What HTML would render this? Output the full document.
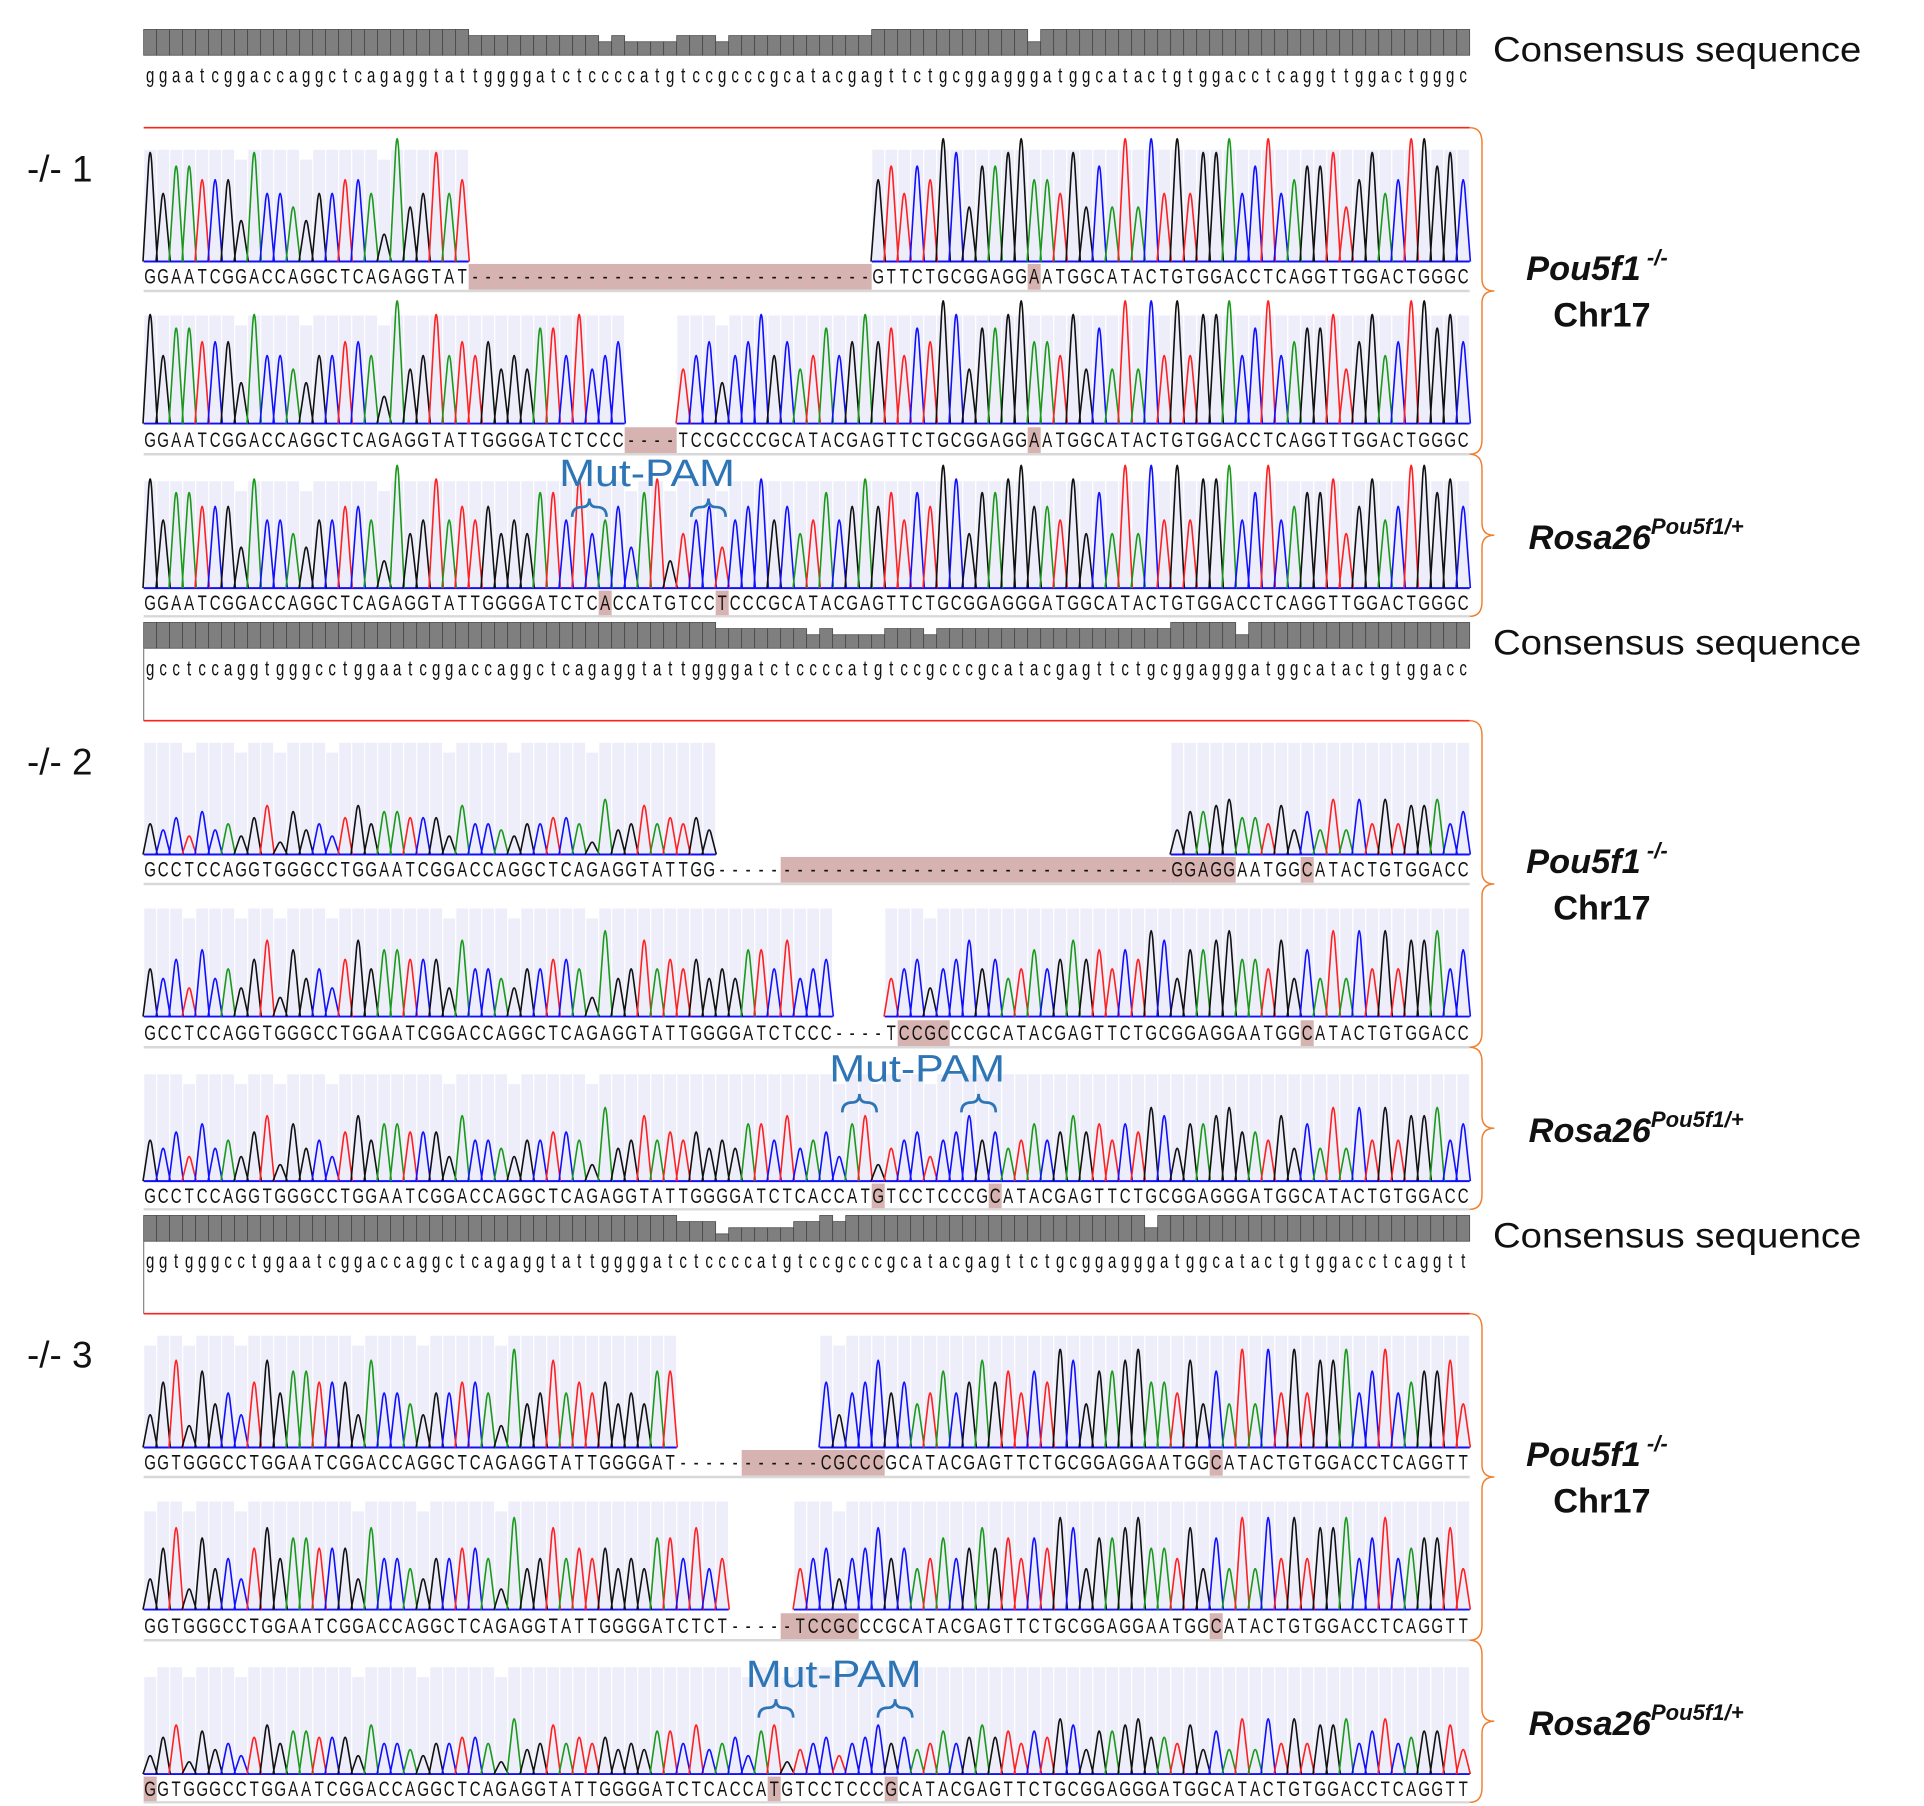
<!DOCTYPE html>
<html><head><meta charset="utf-8"><style>
html,body{margin:0;padding:0;background:#fff;}
svg{display:block;}
</style></head><body>
<svg id="fig" xmlns="http://www.w3.org/2000/svg" width="1924" height="1806" viewBox="0 0 1567 1471" preserveAspectRatio="none" font-family="Liberation Sans, sans-serif"></svg>
<script>
// ---- data ----
const genomicHeights = "5463745368274536" + "8577666385543556652945856" + "5645477584563782456356856457568" + "6757698477896658474949595889579567784685699786";
const cons1 = "ggaatcggaccaggctcagaggtattggggatctccccatgtccgcccgcatacgagttctgcggagggatggcatactgtggacctcaggttggactgggc";
const cons2 = "gcctccaggtgggcctggaatcggaccaggctcagaggtattggggatctccccatgtccgcccgcatacgagttctgcggagggatggcatactgtggacc";
const cons3 = "ggtgggcctggaatcggaccaggctcagaggtattggggatctccccatgtccgcccgcatacgagttctgcggagggatggcatactgtggacctcaggtt";
const b1t1 = "GGAATCGGACCAGGCTCAGAGGTAT-------------------------------GTTCTGCGGAGGAATGGCATACTGTGGACCTCAGGTTGGACTGGGC";
const b1t2 = "GGAATCGGACCAGGCTCAGAGGTATTGGGGATCTCCC----TCCGCCCGCATACGAGTTCTGCGGAGGAATGGCATACTGTGGACCTCAGGTTGGACTGGGC";
const b1t3 = "GGAATCGGACCAGGCTCAGAGGTATTGGGGATCTCACCATGTCCTCCCGCATACGAGTTCTGCGGAGGGATGGCATACTGTGGACCTCAGGTTGGACTGGGC";
const b2t1 = "GCCTCCAGGTGGGCCTGGAATCGGACCAGGCTCAGAGGTATTGG-----------------------------------GGAGGAATGGCATACTGTGGACC";
const b2t2 = "GCCTCCAGGTGGGCCTGGAATCGGACCAGGCTCAGAGGTATTGGGGATCTCCC----TCCGCCCGCATACGAGTTCTGCGGAGGAATGGCATACTGTGGACC";
const b2t3 = "GCCTCCAGGTGGGCCTGGAATCGGACCAGGCTCAGAGGTATTGGGGATCTCACCATGTCCTCCCGCATACGAGTTCTGCGGAGGGATGGCATACTGTGGACC";
const b3t1 = "GGTGGGCCTGGAATCGGACCAGGCTCAGAGGTATTGGGGAT-----------CGCCCGCATACGAGTTCTGCGGAGGAATGGCATACTGTGGACCTCAGGTT";
const b3t2 = "GGTGGGCCTGGAATCGGACCAGGCTCAGAGGTATTGGGGATCTCT-----TCCGCCCGCATACGAGTTCTGCGGAGGAATGGCATACTGTGGACCTCAGGTT";
const b3t3 = "GGTGGGCCTGGAATCGGACCAGGCTCAGAGGTATTGGGGATCTCACCATGTCCTCCCGCATACGAGTTCTGCGGAGGGATGGCATACTGTGGACCTCAGGTT";
const boxes = [[[25,55],[68,68]],[[37,40],[68,68]],[[35,35],[44,44]],
               [[49,78],[79,83],[89,89]],[[58,61],[89,89]],[[56,56],[65,65]],
               [[46,56],[82,82]],[[49,54],[82,82]],[[0,0],[48,48],[57,57]]];
const peakScale = [1,1,1, 0.45,0.7,0.6, 0.8,0.75,0.45];
const blockOffsets = [16,0,7];
// ---- layout ----
const svg = document.getElementById('fig');
const NS = "http://www.w3.org/2000/svg";
const X0 = 117, X1 = 1197, N = 102, cw = (X1-X0)/N, SX = 0.72;
const colors = {A:"#1a9a1a",C:"#1010ff",G:"#111",T:"#ff2020"};
function mk(tag, attrs, parent){const e=document.createElementNS(NS,tag);for(const k in attrs)e.setAttribute(k,attrs[k]);(parent||svg).appendChild(e);return e;}
function fix(s){return s.padEnd(N,'-').slice(0,N);}
const blocks = [
 {cons:cons1, traces:[b1t1,b1t2,b1t3], dy:0},
 {cons:cons2, traces:[b2t1,b2t2,b2t3], dy:483},
 {cons:cons3, traces:[b3t1,b3t2,b3t3], dy:966}
];
const traceGeom = [[122,213,231,237],[257,345,364,370],[392,479,497,502]];
const blockNames=['1','2','3'];
blocks.forEach((b,bi)=>{
  const dy=b.dy;
  const cons=fix(b.cons);
  const traces=b.traces.map(fix);
  const g=mk('g',{});
  
  
  const bar=mk('g',{},g);
  
  
  for(let i=0;i<N;i++){
    let agree=0;traces.forEach(t=>{if(t[i].toLowerCase()===cons[i])agree++;});
    const top=24+dy+(3-agree)*5;
    const r=mk('rect',{x:X0+i*cw,y:top,width:cw,height:45+dy-top,fill:"#7f7f7f",stroke:"#444","stroke-width":0.6},bar);
    
    
  }
  const ct=mk('g',{"font-size":17,fill:"#111","text-anchor":"middle",transform:`scale(${SX},1)`},g);
  
  
  for(let i=0;i<N;i++){const t=mk('text',{x:(X0+(i+0.5)*cw)/SX,y:67+dy},ct);t.textContent=cons[i];}
  const cl=mk('text',{x:1216,y:50+dy,"font-size":29,fill:"#111",textLength:300,lengthAdjust:"spacingAndGlyphs"},g);cl.textContent="Consensus sequence";
  
  
  if(bi>0){mk('line',{x1:X0,y1:45+dy,x2:X0,y2:104+dy,stroke:"#888","stroke-width":1},g);}
  mk('line',{x1:X0,y1:104+dy,x2:X1,y2:104+dy,stroke:"#ff2020","stroke-width":1.3},g);
  const sl=mk('text',{x:22,y:148+dy,"font-size":30,fill:"#111"},g);sl.textContent="-/- "+blockNames[bi];
  
  
  traces.forEach((seq,ti)=>{
    const [bg,base,ty,sep]=traceGeom[ti].map(v=>v+dy);
    const k=bi*3+ti;
    const tg=mk('g',{},g);
    
    
    for(let i=0;i<N;i++){if(seq[i]==='-')continue;
      const hq=+genomicHeights[i+blockOffsets[bi]];
      mk('rect',{x:X0+i*cw+0.5,y:bg+(hq<4?8:0),width:cw-1,height:base-bg-(hq<4?8:0),fill:"#eeeefb"},tg);}
    boxes[k].forEach(([a,c])=>{mk('rect',{x:X0+a*cw,y:ty-16,width:(c-a+1)*cw,height:21,fill:"#d6b2b0"},tg);});
    let runStart=-1;
    for(let i=0;i<=N;i++){const ok=i<N&&seq[i]!=='-';
      if(ok&&runStart<0)runStart=i;
      if(!ok&&runStart>=0){mk('line',{x1:X0+runStart*cw,y1:base,x2:X0+i*cw,y2:base,stroke:"#1010ff","stroke-width":1.6},tg);runStart=-1;}}
    for(let i=0;i<N;i++){const ch=seq[i];if(ch==='-')continue;
      const h=(+genomicHeights[i+blockOffsets[bi]])/9*100*peakScale[k];
      const x=X0+(i+0.5)*cw;
      const p=mk('path',{d:`M${x-cw*0.55},${base} L${x-cw*0.12},${base-h*0.9} Q${x},${base-h*1.1} ${x+cw*0.12},${base-h*0.9} L${x+cw*0.55},${base}`,fill:"none",stroke:colors[ch],"stroke-width":1.3},tg);
      
      }
    const st=mk('g',{"font-size":17,fill:"#111","text-anchor":"middle",transform:`scale(${SX},1)`},tg);
    for(let i=0;i<N;i++){const t=mk('text',{x:(X0+(i+0.5)*cw)/SX,y:ty},st);t.textContent=seq[i];}
    mk('line',{x1:X0,y1:sep,x2:X1,y2:sep,stroke:"#d8d8d8","stroke-width":2},tg);
  });
  const br=(y1,y2,ym)=>{const x=1197,xm=1217;
    const p=mk('path',{d:`M${x},${y1} Q${x+10},${y1} ${x+10},${y1+12} L${x+10},${ym-10} Q${x+10},${ym} ${xm},${ym} Q${x+10},${ym} ${x+10},${ym+10} L${x+10},${y2-12} Q${x+10},${y2} ${x},${y2}`,fill:"none",stroke:"#f08030","stroke-width":1.2},g);
    
    };
  br(104+dy,370+dy,237+dy);br(370+dy,502+dy,436+dy);
  const l1=mk('text',{x:1243,y:228+dy,"font-size":28,"font-weight":"bold","font-style":"italic",fill:"#111"},g);
  l1.innerHTML='Pou5f1<tspan dy="-12" font-size="18"> -/-</tspan>';
  
  
  const l2=mk('text',{x:1265,y:266+dy,"font-size":28,"font-weight":"bold",fill:"#111"},g);l2.textContent="Chr17";
  
  
  const l3=mk('text',{x:1245,y:447+dy,"font-size":28,"font-weight":"bold","font-style":"italic",fill:"#111"},g);
  l3.innerHTML='Rosa26<tspan dy="-12" font-size="18">Pou5f1/+</tspan>';
  
  
});
[[527,396,480,577],[747,881,700,797],[679,1374,632,729]].forEach(([tx,ty,a,b])=>{
  const t=mk('text',{x:tx,y:ty,"font-size":31,fill:"#2e75b6","text-anchor":"middle",textLength:143,lengthAdjust:"spacingAndGlyphs"});t.textContent="Mut-PAM";
  
  
  [a,b].forEach(x=>{const y=ty+10;
    const p=mk('path',{d:`M${x-14},${y+15} Q${x-14},${y+7} ${x-6},${y+7} Q${x},${y+7} ${x},${y} Q${x},${y+7} ${x+6},${y+7} Q${x+14},${y+7} ${x+14},${y+15}`,fill:"none",stroke:"#2e75b6","stroke-width":2.2});
    
    });
});
</script>
</body></html>
